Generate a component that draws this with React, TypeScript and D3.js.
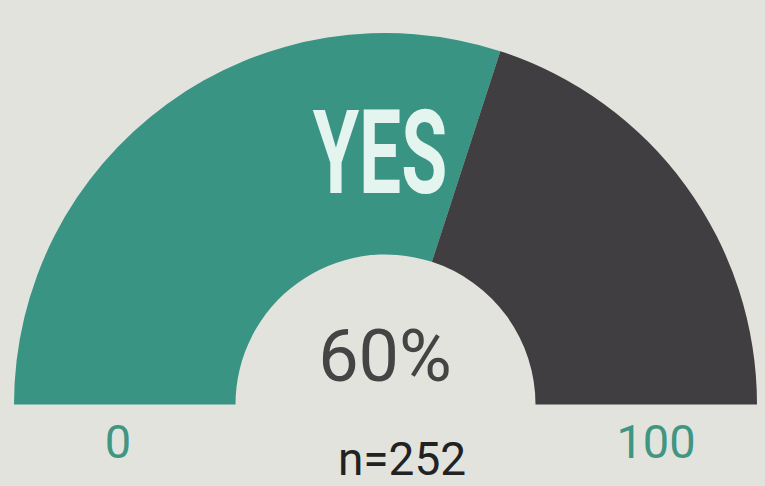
import React from "react";
import * as d3 from "d3";

const value = [60];
const rangeLabels = ["0", "100"];
const mainLabel = ["YES"];
const sampleLabel = ["n=252"];

export default function App() {
  const W = 765, H = 486;
  const cx = 385.5, cy = 404.5;
  const rOuter = 371.5, rInner = 150;
  const scale = d3.scaleLinear().domain([0, 100]).range([-Math.PI / 2, Math.PI / 2]);
  const arc = d3.arc<any>().innerRadius(rInner).outerRadius(rOuter);
  const v = value[0];
  const fg = arc({ startAngle: scale(0), endAngle: scale(v) } as any) as string;
  const bg = arc({ startAngle: scale(v), endAngle: scale(100) } as any) as string;
  return (
    <svg width={W} height={H} style={{ position: "absolute", left: 0, top: 0, background: "#e3e3dd" }}>
      <rect x={0} y={0} width={W} height={H} fill="#e3e3dd" />
      <g transform={`translate(${cx},${cy})`}>
        <path d={fg} fill="#3a9484" />
        <path d={bg} fill="#403e40" />
      </g>
      <text
        transform={`translate(380,193) scale(0.64,1)`}
        textAnchor="middle"
        fontFamily="Roboto"
        fontWeight={700}
        fontSize={117}
        fill="#e4f5ef"
      >
        {mainLabel[0]}
      </text>
      <text x={385} y={381} textAnchor="middle" fontFamily="Roboto" fontSize={72} fill="#444444">
        {`${v}%`}
      </text>
      <text x={118} y={458} textAnchor="middle" fontFamily="Roboto" fontSize={47} fill="#3f9683">
        {rangeLabels[0]}
      </text>
      <text x={656} y={458} textAnchor="middle" fontFamily="Roboto" fontSize={47} fill="#3f9683">
        {rangeLabels[1]}
      </text>
      <text x={402} y={475} textAnchor="middle" fontFamily="Roboto" fontSize={46} fill="#222222">
        {sampleLabel[0]}
      </text>
    </svg>
  );
}
